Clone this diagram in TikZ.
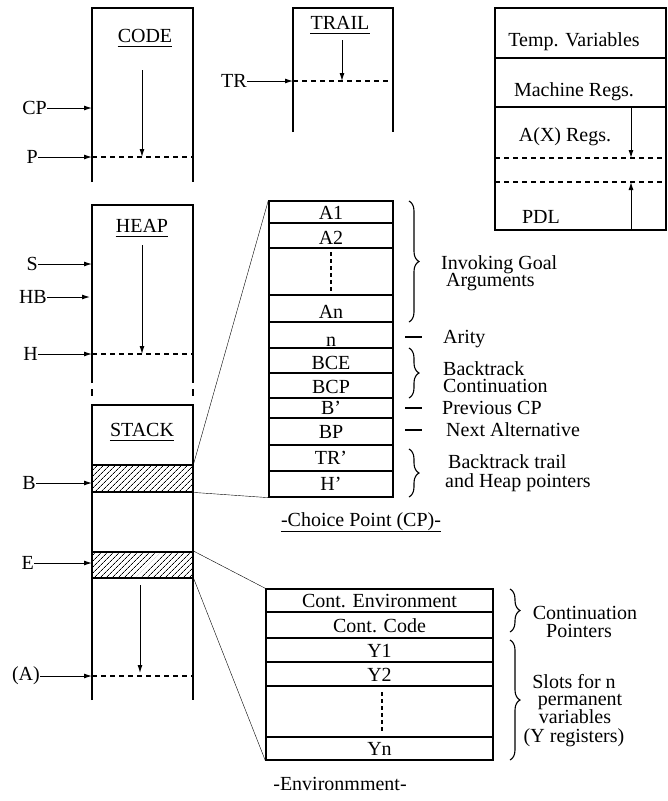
\documentclass[tikz,border=0pt]{standalone}
\usepackage{fontspec}
\setmainfont{Liberation Serif}
\usetikzlibrary{arrows.meta,patterns.meta,decorations.pathreplacing}
\begin{document}
\begin{tikzpicture}[x=1pt,y=-1pt,
  every node/.style={font=\fontsize{20}{22}\selectfont, inner sep=0pt},
  wall/.style={line width=1.3pt},
  thickrow/.style={line width=2.6pt},
  rowline/.style={line width=1.1pt},
  ptr/.style={line width=1pt,-{Latex[length=8pt,width=5pt]}},
  dline/.style={line width=1.1pt,dash pattern=on 5pt off 4pt},
  dots/.style={line width=1.1pt,dash pattern=on 4pt off 3pt},
  uline/.style={line width=1pt},
  lbl/.style={anchor=east},
  txt/.style={anchor=base},
  ltxt/.style={anchor=base west},
  brc/.style={decorate,decoration={brace,amplitude=10pt},line width=1.1pt},
  tick/.style={line width=1.1pt},
  hatch/.style={draw,line width=1.6pt,minimum width=101pt,
     pattern={Lines[angle=45,distance=4pt,line width=0.8pt]}},
  box/.style={draw,line width=1.3pt}
  ]
\useasboundingbox (0,0) rectangle (668,801);

% ---------------- CODE
\draw[wall] (92,182) -- (92,8) -- (193,8) -- (193,182);
\node[txt] (code) at (145,42) {CODE};
\draw[uline] ([yshift=-4pt]code.base west) -- ([yshift=-4pt]code.base east);
\coordinate (codeA) at (142,70); \coordinate (codeB) at (142,157);
\draw[ptr] (codeA) -- (codeB);
\draw[dline] (92,157) -- (193,157);
\node[lbl] (lcp) at (47,108) {CP}; \coordinate (wcp) at (92,108);
\draw[ptr] (lcp.east) -- (wcp);
\node[lbl] (lp) at (38,157) {P}; \coordinate (wp) at (92,157);
\draw[ptr] (lp.east) -- (wp);

% ---------------- TRAIL
\draw[wall] (293,132) -- (293,8) -- (393,8) -- (393,132);
\node[txt] (trail) at (340,29) {TRAIL};
\draw[uline] ([yshift=-4pt]trail.base west) -- ([yshift=-4pt]trail.base east);
\coordinate (trA) at (342,40); \coordinate (trB) at (342,81);
\draw[ptr] (trA) -- (trB);
\draw[dline] (293,81) -- (393,81);
\node[lbl] (ltr) at (247,81) {TR}; \coordinate (wtr) at (293,81);
\draw[ptr] (ltr.east) -- (wtr);

% ---------------- Registers
\draw[wall] (495,8) rectangle (666,230);
\draw[rowline] (495,58) -- (666,58);
\draw[rowline] (495,107) -- (666,107);
\draw[dline] (495,158) -- (666,158);
\draw[dline] (495,182) -- (666,182);
\node[txt] (temp) at (574,46) {Temp. Variables};
\node[txt] (mach) at (574,96) {Machine Regs.};
\node[txt] (axr) at (565,141) {A(X) Regs.};
\node[txt] (pdl) at (541,223) {PDL};
\coordinate (axA) at (631,107); \coordinate (axB) at (631,158);
\draw[ptr] (axA) -- (axB);
\coordinate (pdA) at (631,230); \coordinate (pdB) at (631,182);
\draw[ptr] (pdA) -- (pdB);

% ---------------- HEAP
\draw[wall] (92,383) -- (92,205) -- (193,205) -- (193,383);
\draw[wall] (92,389) -- (92,396);
\draw[wall] (193,389) -- (193,396);
\node[txt] (heap) at (142,232) {HEAP};
\draw[uline] ([yshift=-4pt]heap.base west) -- ([yshift=-4pt]heap.base east);
\coordinate (hpA) at (142,245); \coordinate (hpB) at (142,354);
\draw[ptr] (hpA) -- (hpB);
\draw[dline] (92,354) -- (193,354);
\node[lbl] (ls) at (38,264) {S}; \coordinate (ws) at (92,264);
\draw[ptr] (ls.east) -- (ws);
\node[lbl] (lhb) at (47,297) {HB}; \coordinate (whb) at (90,297);
\draw[ptr] (lhb.east) -- (whb);
\node[lbl] (lh) at (38,354) {H}; \coordinate (wh) at (92,354);
\draw[ptr] (lh.east) -- (wh);

% ---------------- STACK
\draw[wall] (92,700) -- (92,405) -- (193,405) -- (193,700);
\node[txt] (stack) at (142,436) {STACK};
\draw[uline] ([yshift=-4pt]stack.base west) -- ([yshift=-4pt]stack.base east);
\node[hatch,minimum height=27pt] (bblk) at (142.5,478.5) {};
\node[hatch,minimum height=26pt] (eblk) at (142.5,565) {};
\node[lbl] (lb) at (36,483) {B}; \coordinate (wb) at (92,483);
\draw[ptr] (lb.east) -- (wb);
\node[lbl] (le) at (34,563) {E}; \coordinate (we) at (92,563);
\draw[ptr] (le.east) -- (we);
\coordinate (stA) at (140,585); \coordinate (stB) at (140,673);
\draw[ptr] (stA) -- (stB);
\draw[dline] (92,676) -- (193,676);
\node[lbl] (la) at (40,676) {(A)}; \coordinate (wa) at (92,676);
\draw[ptr] (la.east) -- (wa);

% ---------------- Choice point
\node[box,minimum width=124pt,minimum height=296pt] (cpbox) at (331,349) {};
\foreach \yy in {223,248,295,348,373,398,418,445,471}
  \draw[rowline] (269,\yy) -- (393,\yy);
\draw[thickrow] (269,322) -- (393,322);
\draw[dots] (331,252) -- (331,292);
\node[txt] at (331,219) {A1};
\node[txt] at (331,244) {A2};
\node[txt] at (331,318) {An};
\node[txt] at (331,346) {n};
\node[txt] at (331,369) {BCE};
\node[txt] at (331,393) {BCP};
\node[txt] at (331,414) {B'};
\node[txt] at (331,438) {BP};
\node[txt] at (331,464) {TR'};
\node[txt] at (331,490) {H'};
\draw (bblk.north east) -- (cpbox.north west);
\draw (bblk.south east) -- (cpbox.south west);

\draw[brc] (409,201) -- (409,322);
\node[ltxt] at (441,269) {Invoking Goal};
\node[ltxt] at (446,286) {Arguments};
\draw[tick] (405,337) -- (422,337);
\node[ltxt] at (443,343) {Arity};
\draw[brc] (409,348) -- (409,398);
\node[ltxt] at (443,375) {Backtrack};
\node[ltxt] at (443,392) {Continuation};
\draw[tick] (405,408) -- (422,408);
\node[ltxt] at (442,414) {Previous CP};
\draw[tick] (405,430) -- (422,430);
\node[ltxt] at (446,436) {Next Alternative};
\draw[brc] (409,449) -- (409,497);
\node[ltxt] at (448,468) {Backtrack trail};
\node[ltxt] at (445,487) {and Heap pointers};
\node[txt] (cpcap) at (361,526) {-Choice Point (CP)-};
\draw[uline] ([yshift=-5pt]cpcap.base west) -- ([yshift=-5pt]cpcap.base east);

% ---------------- Environment
\node[box,minimum width=227pt,minimum height=171pt] (envbox) at (379.5,674.5) {};
\foreach \yy in {612,662,686,737}
  \draw[rowline] (266,\yy) -- (493,\yy);
\draw[thickrow] (266,638) -- (493,638);
\draw[dots] (382,692) -- (382,733);
\node[txt] at (379.5,607) {Cont. Environment};
\node[txt] at (379.5,632) {Cont. Code};
\node[txt] at (379.5,657) {Y1};
\node[txt] at (379.5,681) {Y2};
\node[txt] at (379.5,755) {Yn};
\draw (eblk.north east) -- (envbox.north west);
\draw (eblk.south east) -- (envbox.south west);

\draw[brc] (510,589) -- (510,632);
\node[txt] at (585,619) {Continuation};
\node[txt] at (579,637) {Pointers};
\draw[brc] (510,640) -- (510,760);
\node[txt] at (574,688) {Slots for n};
\node[txt] at (580,705) {permanent};
\node[txt] at (575,723) {variables};
\node[txt] at (574,742) {(Y registers)};
\node[txt] at (340,790) {-Environmment-};
\end{tikzpicture}
\end{document}
